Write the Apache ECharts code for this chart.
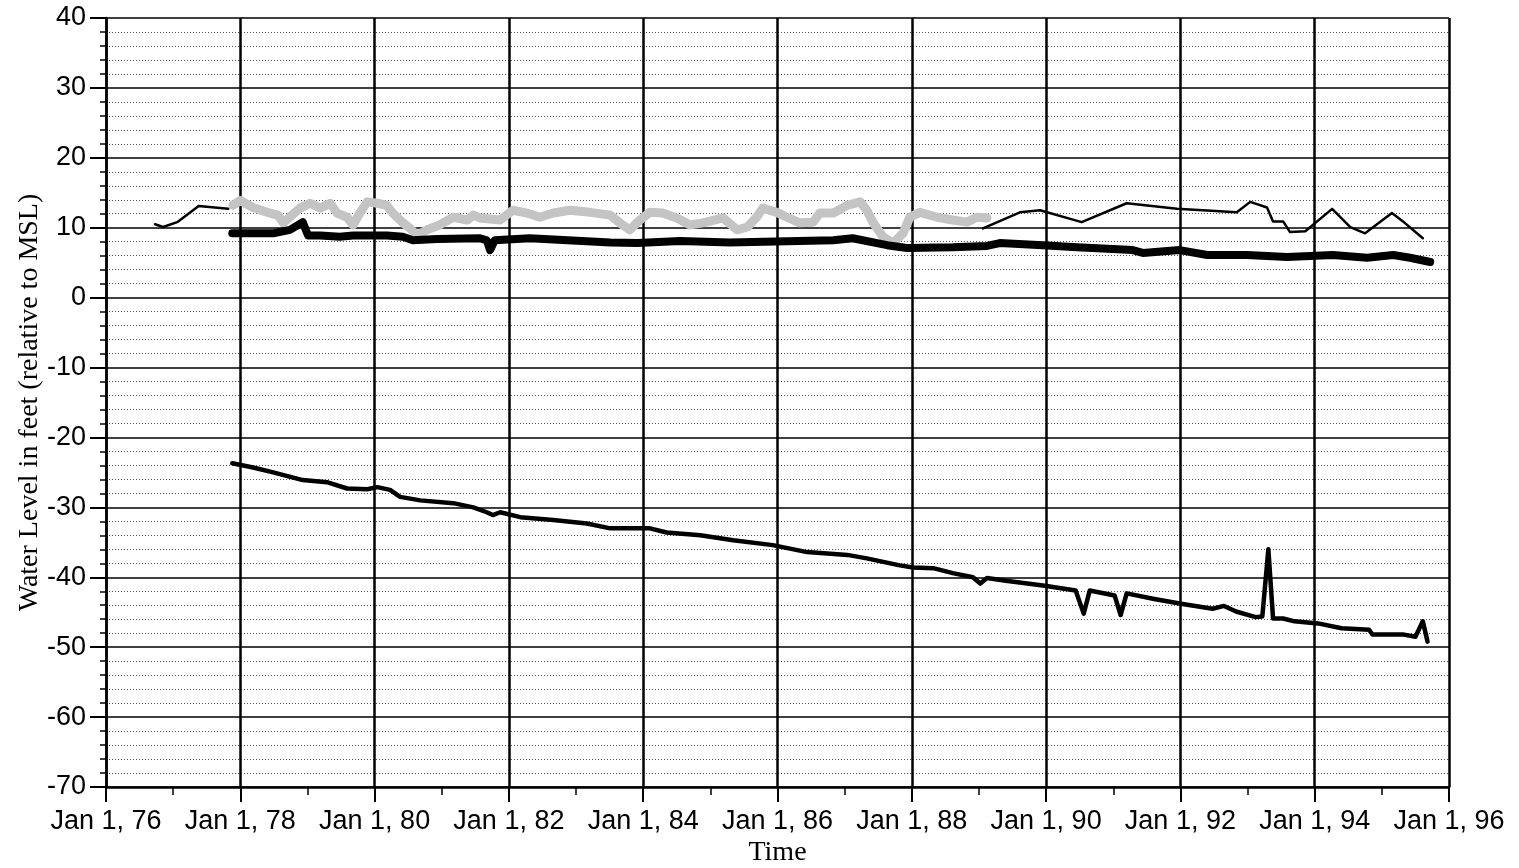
<!DOCTYPE html>
<html>
<head>
<meta charset="utf-8">
<title>Water Level</title>
<script src="https://cdn.jsdelivr.net/npm/echarts@6/dist/echarts.min.js"></script>
<style>
  html, body { margin: 0; padding: 0; background: #fff; }
  #chart { width: 1519px; height: 868px; }
</style>
</head>
<body>
<div id="chart"></div>
<script>
// tick labels (years shown as "Jan 1, yy")
var yearTicks = [1976, 1978, 1980, 1982, 1984, 1986, 1988, 1990, 1992, 1994, 1996];
var levelTicks = [-70, -60, -50, -40, -30, -20, -10, 0, 10, 20, 30, 40];

// thin black line, sparse readings (gap where the grey record runs)
var thinLine = [
    [1976.73, 10.5], [1976.85, 10.1], [1977.06, 10.8], [1977.38, 13.1], [1977.82, 12.7],
    [1978.5, null],
    [1989.06, 9.9], [1989.61, 12.2], [1989.91, 12.5], [1990.53, 10.8], [1991.20, 13.5],
    [1991.95, 12.7], [1992.84, 12.2], [1993.04, 13.7], [1993.29, 12.9], [1993.38, 10.9],
    [1993.53, 10.9], [1993.63, 9.4], [1993.86, 9.5], [1994.26, 12.7], [1994.53, 10.1],
    [1994.75, 9.2], [1995.15, 12.1], [1995.34, 10.7], [1995.61, 8.5]
];

// grey noisy record 1978-1989
var greyLine = [
    [1977.89, 13.2], [1978.00, 13.9], [1978.19, 12.9], [1978.40, 12.2], [1978.56, 11.8],
    [1978.64, 10.7], [1978.77, 11.8], [1978.89, 12.8], [1979.04, 13.5], [1979.19, 12.8],
    [1979.34, 13.5], [1979.44, 12.1], [1979.59, 11.5], [1979.68, 10.4], [1979.78, 12.1],
    [1979.89, 13.7], [1980.04, 13.5], [1980.18, 13.2], [1980.27, 12.1], [1980.41, 10.8],
    [1980.53, 9.9], [1980.63, 8.9], [1980.78, 9.7], [1980.97, 10.4], [1981.17, 11.5],
    [1981.38, 11.1], [1981.47, 11.8], [1981.57, 11.4], [1981.87, 11.1], [1982.06, 12.5],
    [1982.27, 12.1], [1982.46, 11.5], [1982.66, 12.1], [1982.91, 12.5], [1983.21, 12.2],
    [1983.51, 11.8], [1983.65, 10.7], [1983.80, 9.7], [1983.95, 11.1], [1984.10, 12.2],
    [1984.29, 12.1], [1984.50, 11.4], [1984.70, 10.4], [1984.89, 10.7], [1985.19, 11.4],
    [1985.40, 9.7], [1985.55, 10.1], [1985.69, 11.5], [1985.78, 12.8], [1985.99, 12.2],
    [1986.14, 11.5], [1986.33, 10.7], [1986.53, 10.8], [1986.63, 12.1], [1986.83, 12.1],
    [1987.04, 13.2], [1987.23, 13.7], [1987.33, 12.5], [1987.42, 10.8], [1987.57, 8.7],
    [1987.72, 7.8], [1987.87, 9.2], [1987.97, 11.5], [1988.12, 12.2], [1988.38, 11.5],
    [1988.61, 11.1], [1988.82, 10.8], [1988.97, 11.5], [1989.12, 11.4]
];

// thick black record
var thickLine = [
    [1977.88, 9.2], [1978.19, 9.2], [1978.49, 9.2], [1978.74, 9.7], [1978.93, 10.8],
    [1979.01, 8.9], [1979.19, 8.9], [1979.48, 8.7], [1979.68, 8.9], [1979.93, 8.9],
    [1980.18, 8.9], [1980.42, 8.7], [1980.57, 8.2], [1980.93, 8.4], [1981.57, 8.5],
    [1981.67, 8.2], [1981.72, 6.8], [1981.79, 8.2], [1982.31, 8.5], [1983.51, 7.9],
    [1983.91, 7.8], [1984.55, 8.1], [1985.29, 7.9], [1986.83, 8.2], [1987.12, 8.5],
    [1987.63, 7.5], [1987.93, 7.1], [1988.61, 7.2], [1989.12, 7.4], [1989.31, 7.8],
    [1989.95, 7.5], [1990.46, 7.2], [1991.29, 6.8], [1991.44, 6.4], [1991.99, 6.8],
    [1992.40, 6.1], [1992.99, 6.1], [1993.59, 5.8], [1994.27, 6.1], [1994.78, 5.7],
    [1995.17, 6.1], [1995.42, 5.7], [1995.72, 5.1]
];

// declining deep record
var deepLine = [
    [1977.88, -23.7], [1978.19, -24.3], [1978.49, -25.0], [1978.93, -26.1], [1979.29, -26.4],
    [1979.59, -27.3], [1979.89, -27.4], [1980.04, -27.1], [1980.23, -27.5], [1980.38, -28.5],
    [1980.68, -29.0], [1981.17, -29.4], [1981.47, -30.0], [1981.67, -30.7], [1981.76, -31.1],
    [1981.87, -30.7], [1982.17, -31.4], [1982.66, -31.8], [1983.16, -32.3], [1983.51, -33.0],
    [1984.10, -33.0], [1984.35, -33.6], [1984.85, -34.0], [1985.34, -34.7], [1985.93, -35.4],
    [1986.44, -36.4], [1987.04, -36.8], [1987.33, -37.3], [1987.82, -38.3], [1988.02, -38.6],
    [1988.32, -38.7], [1988.61, -39.4], [1988.91, -40.0], [1989.02, -40.9], [1989.12, -40.1],
    [1989.40, -40.5], [1989.98, -41.2], [1990.44, -41.9], [1990.56, -45.2], [1990.65, -41.9],
    [1991.02, -42.6], [1991.11, -45.4], [1991.20, -42.3], [1991.61, -43.1], [1992.01, -43.8],
    [1992.48, -44.5], [1992.65, -44.1], [1992.83, -44.9], [1993.12, -45.7], [1993.22, -45.6],
    [1993.31, -36.0], [1993.38, -45.9], [1993.53, -45.9], [1993.70, -46.3], [1994.05, -46.6],
    [1994.40, -47.3], [1994.81, -47.5], [1994.86, -48.2], [1995.33, -48.2], [1995.50, -48.5],
    [1995.61, -46.3], [1995.68, -49.2]
];

var tickFont = { fontFamily: 'Liberation Sans', fontSize: 27, color: '#000' };
var nameFont = { fontFamily: 'Liberation Serif', fontSize: 28, color: '#000' };

function lineSeries(name, data, color, width, z) {
    return {
        name: name,
        type: 'line',
        data: data,
        z: z,
        symbol: 'none',
        connectNulls: false,
        lineStyle: { color: color, width: width, join: 'round', cap: 'round' }
    };
}

var myChart = echarts.init(document.getElementById('chart'));
var option = {
    animation: false,
    backgroundColor: '#fff',
    // keep the plot box fixed, do not let labels push it around
    grid: { left: 106, right: 70, top: 18, bottom: 81, outerBoundsMode: 'none', containLabel: false },
    xAxis: {
        type: 'value',
        min: yearTicks[0],
        max: yearTicks[yearTicks.length - 1],
        interval: 2,
        name: 'Time',
        nameLocation: 'middle',
        nameGap: 52,
        nameMoveOverlap: false,
        nameTextStyle: nameFont,
        axisLine: { show: true, onZero: false, lineStyle: { color: '#000', width: 2.5 } },
        axisTick: { show: true, length: 15, lineStyle: { color: '#000', width: 2 } },
        minorTick: { show: true, splitNumber: 2, length: 8, lineStyle: { color: '#000', width: 1.5 } },
        axisLabel: Object.assign({
            margin: 21,
            formatter: function (v) { return 'Jan 1, ' + String(v).slice(2); }
        }, tickFont),
        splitLine: { show: true, lineStyle: { color: '#000', width: 2.5 } }
    },
    yAxis: {
        type: 'value',
        min: levelTicks[0],
        max: levelTicks[levelTicks.length - 1],
        interval: 10,
        name: 'Water Level in feet (relative to MSL)',
        nameLocation: 'middle',
        nameGap: 62,
        nameMoveOverlap: false,
        nameTextStyle: nameFont,
        axisLine: { show: true, onZero: false, lineStyle: { color: '#000', width: 2.5 } },
        axisTick: { show: true, length: 16, lineStyle: { color: '#000', width: 2 } },
        minorTick: { show: true, splitNumber: 5, length: 6, lineStyle: { color: '#000', width: 1.5 } },
        axisLabel: Object.assign({ margin: 20 }, tickFont),
        splitLine: { show: true, lineStyle: { color: '#000', width: 1.5 } },
        minorSplitLine: { show: true, lineStyle: { color: '#555', width: 1, type: [1, 2] } }
    },
    series: [
        lineSeries('grey', greyLine, '#c4c4c4', 9, 3),
        lineSeries('thin', thinLine, '#000', 2.5, 4),
        lineSeries('thick', thickLine, '#000', 8, 5),
        lineSeries('deep', deepLine, '#000', 4.5, 5)
    ]
};
myChart.setOption(option);
</script>
</body>
</html>
